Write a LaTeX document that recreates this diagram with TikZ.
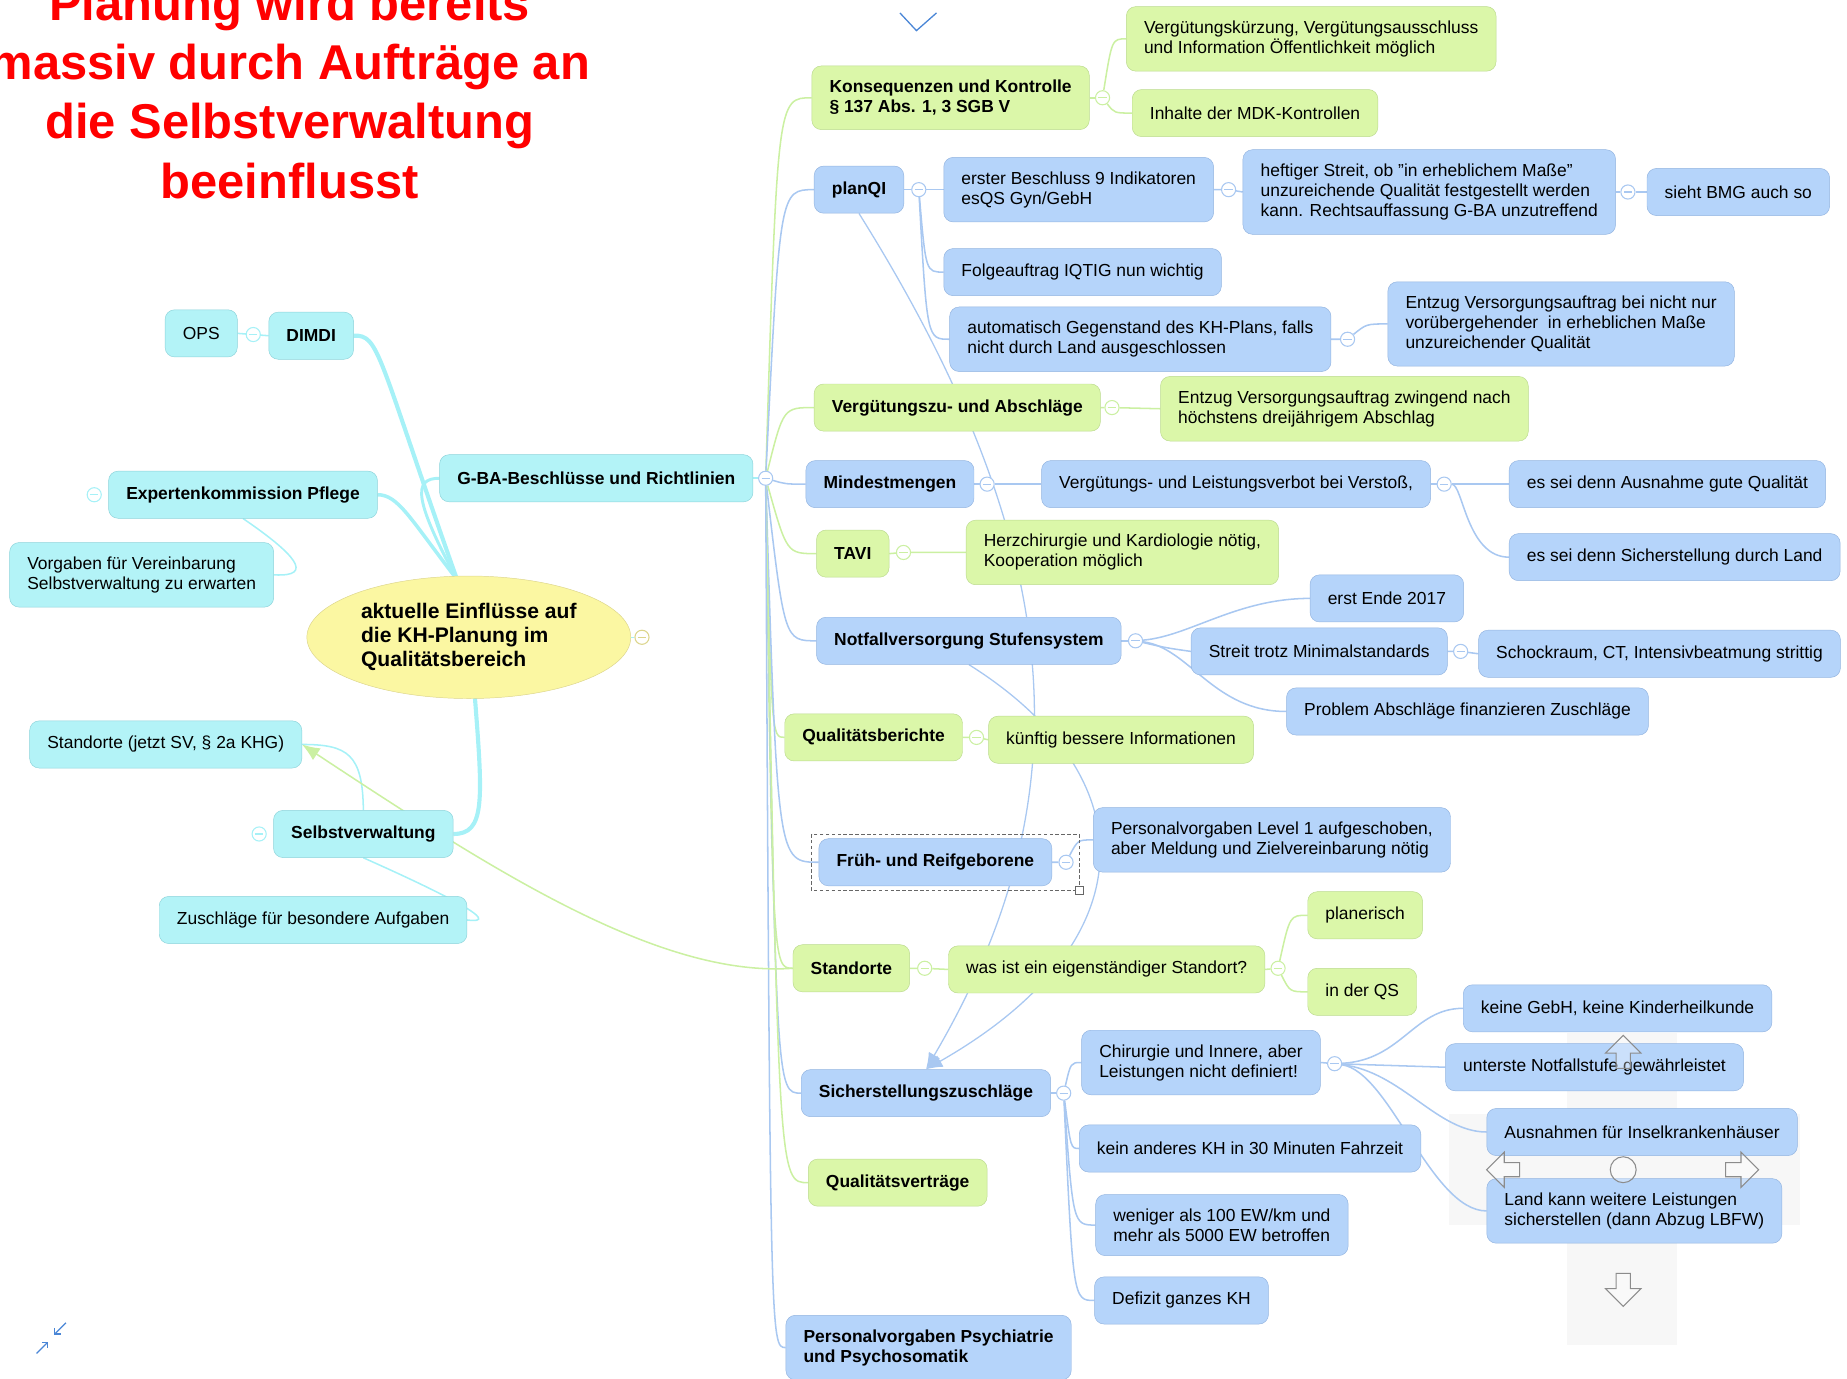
\documentclass[tikz,border=0pt]{standalone}
\usepackage{fontspec}
\setmainfont{Liberation Sans}
\usetikzlibrary{arrows.meta,shapes,positioning,calc,backgrounds}

\definecolor{bluefill}{HTML}{B5D4FA}
\definecolor{bluedraw}{HTML}{93B4E0}
\definecolor{greenfill}{HTML}{DBF7A9}
\definecolor{greendraw}{HTML}{BBDA8E}
\definecolor{cyanfill}{HTML}{B3F3F7}
\definecolor{cyandraw}{HTML}{8DD3DA}
\definecolor{yelfill}{HTML}{FBF7A2}
\definecolor{yeldraw}{HTML}{DCD58C}
\definecolor{bluelink}{HTML}{A9C8F1}
\definecolor{greenlink}{HTML}{CBF0A2}
\definecolor{cyanlink}{HTML}{A6F1F7}
\definecolor{iconblue}{HTML}{4A86D6}

\tikzset{
  boxbase/.style={draw, rounded corners=8pt, inner xsep=15pt, inner ysep=12pt,
    minimum height=40pt, align=left, anchor=west, font=\fontsize{14.8}{17}\selectfont},
  bluebox/.style={boxbase, fill=bluefill, draw=bluedraw},
  greenbox/.style={boxbase, fill=greenfill, draw=greendraw},
  cyanbox/.style={boxbase, fill=cyanfill, draw=cyandraw},
  hdtext/.style={font=\fontsize{14.8}{17}\selectfont\bfseries},
  blueline/.style={draw=bluelink, line width=1.3pt},
  greenline/.style={draw=greenlink, line width=1.3pt},
  cyanline/.style={draw=cyanlink, line width=1.3pt},
  fold/.style={circle, draw=#1, fill=white, line width=0.9pt, inner sep=0pt, minimum size=12pt,
    path picture={\draw[#1, line width=0.9pt] ([xshift=-3.5pt]path picture bounding box.center)
      -- ([xshift=3.5pt]path picture bounding box.center);}},
  padline/.style={draw=black!45, line width=0.9pt, fill=white, fill opacity=0.3}
}

\begin{document}
\begin{tikzpicture}[x=1pt,y=-1pt]
\useasboundingbox (0,0) rectangle (1568,1170);

% Title
\node[text=red, inner sep=0pt, anchor=north, align=center,
  font=\fontsize{41.5}{50.3}\selectfont\bfseries] (title) at (246,-13)
  {Planung wird bereits\\massiv durch Aufträge an\\die Selbstverwaltung\\beeinflusst};

% Root and left side
\node[ellipse, draw=yeldraw, fill=yelfill, minimum width=275pt, minimum height=104pt,
  align=left, font=\fontsize{17.9}{20.5}\selectfont\bfseries] (root) at (398,541)
  {aktuelle Einflüsse auf\\die KH-Planung im\\Qualitätsbereich};
\node[cyanbox,hdtext] (gba) at (373,406) {G-BA-Beschlüsse und Richtlinien};
\node[cyanbox] (ops) at (140,283) {OPS};
\node[cyanbox,hdtext] (dimdi) at (228,285) {DIMDI};
\node[cyanbox,hdtext] (expert) at (92,420) {Expertenkommission Pflege};
\node[cyanbox] (vorg) at (8,488) {Vorgaben für Vereinbarung\\Selbstverwaltung zu erwarten};
\node[cyanbox] (stsv) at (25,632) {Standorte (jetzt SV, § 2a KHG)};
\node[cyanbox,hdtext] (selbst) at (232,708) {Selbstverwaltung};
\node[cyanbox] (zuschl) at (135,781) {Zuschläge für besondere Aufgaben};

% Right side
\node[greenbox,hdtext] (kons) at (689,83) {Konsequenzen und Kontrolle\\§ 137 Abs. 1, 3 SGB V};
\node[greenbox] (kuerz) at (956,33) {Vergütungskürzung, Vergütungsausschluss\\und Information Öffentlichkeit möglich};
\node[greenbox] (mdk) at (961,96) {Inhalte der MDK-Kontrollen};
\node[bluebox,hdtext] (planqi) at (691,161) {planQI};
\node[bluebox] (erster) at (801,161) {erster Beschluss 9 Indikatoren\\esQS Gyn/GebH};
\node[bluebox] (streit) at (1055,163) {heftiger Streit, ob "in erheblichem Maße"\\unzureichende Qualität festgestellt werden\\kann. Rechtsauffassung G-BA unzutreffend};
\node[bluebox] (bmg) at (1398,163) {sieht BMG auch so};
\node[bluebox] (iqtig) at (801,231) {Folgeauftrag IQTIG nun wichtig};
\node[bluebox] (autom) at (806,288) {automatisch Gegenstand des KH-Plans, falls\\nicht durch Land ausgeschlossen};
\node[bluebox] (entzug) at (1178,275) {Entzug Versorgungsauftrag bei nicht nur\\vorübergehender\ \ in erheblichen Maße\\unzureichender Qualität};
\node[greenbox,hdtext] (vza) at (691,346) {Vergütungszu- und Abschläge};
\node[greenbox] (zwing) at (985,347) {Entzug Versorgungsauftrag zwingend nach\\höchstens dreijährigem Abschlag};
\node[bluebox,hdtext] (mm) at (684,411) {Mindestmengen};
\node[bluebox] (verbot) at (884,411) {Vergütungs- und Leistungsverbot bei Verstoß,};
\node[bluebox] (ausn) at (1281,411) {es sei denn Ausnahme gute Qualität};
\node[bluebox] (sich) at (1281,473) {es sei denn Sicherstellung durch Land};
\node[greenbox,hdtext] (tavi) at (693,470) {TAVI};
\node[greenbox] (herz) at (820,469) {Herzchirurgie und Kardiologie nötig,\\Kooperation möglich};
\node[bluebox,hdtext] (notf) at (693,544) {Notfallversorgung Stufensystem};
\node[bluebox] (ende) at (1112,508) {erst Ende 2017};
\node[bluebox] (minst) at (1011,553) {Streit trotz Minimalstandards};
\node[bluebox] (schock) at (1255,555) {Schockraum, CT, Intensivbeatmung strittig};
\node[bluebox] (probl) at (1092,604) {Problem Abschläge finanzieren Zuschläge};
\node[greenbox,hdtext] (qb) at (666,626) {Qualitätsberichte};
\node[greenbox] (kuenftig) at (839,628) {künftig bessere Informationen};
\node[bluebox,hdtext] (frueh) at (695,732) {Früh- und Reifgeborene};
\node[bluebox] (level) at (928,713) {Personalvorgaben Level 1 aufgeschoben,\\aber Meldung und Zielvereinbarung nötig};
\node[greenbox,hdtext] (stao) at (673,822) {Standorte};
\node[greenbox] (eigen) at (805,823) {was ist ein eigenständiger Standort?};
\node[greenbox] (plan) at (1110,777) {planerisch};
\node[greenbox] (inqs) at (1110,842) {in der QS};
\node[bluebox,hdtext] (sz) at (680,928) {Sicherstellungszuschläge};
\node[bluebox] (chir) at (918,902) {Chirurgie und Innere, aber\\Leistungen nicht definiert!};
\node[bluebox] (gebh) at (1242,856) {keine GebH, keine Kinderheilkunde};
\node[bluebox] (unterst) at (1227,906) {unterste Notfallstufe gewährleistet};
\node[bluebox] (insel) at (1262,961) {Ausnahmen für Inselkrankenhäuser};
\node[bluebox] (land) at (1262,1028) {Land kann weitere Leistungen\\sicherstellen (dann Abzug LBFW)};
\node[bluebox] (km30) at (916,975) {kein anderes KH in 30 Minuten Fahrzeit};
\node[bluebox] (ew) at (930,1040) {weniger als 100 EW/km und\\mehr als 5000 EW betroffen};
\node[bluebox] (defizit) at (929,1104) {Defizit ganzes KH};
\node[greenbox,hdtext] (qv) at (686,1004) {Qualitätsverträge};
\node[bluebox,hdtext] (psych) at (667,1144) {Personalvorgaben Psychiatrie\\und Psychosomatik};

% selection frame
\draw[densely dashed, black!60] (689,708) rectangle (916,756);
\draw[black!60, fill=white] (913,752) rectangle (920,759);

% Fold markers
\foreach \nm/\px/\py/\cl in {hub/650/406/bluelink, froot/545/541/yeldraw, fdimdi/215/284/cyanlink,
  fexpert/80/420/cyanlink, fselbst/220/708/cyanlink, fkons/936/83/greenlink, fplan/780/161/bluelink,
  ferster/1043/161/bluelink, fstreit/1382/163/bluelink, fautom/1144/288/bluelink,
  fvza/944/346/greenlink, fmm/838/411/bluelink, fverbot/1226/411/bluelink, ftavi/767/469/greenlink,
  fnotf/964/544/bluelink, fminst/1240/553/bluelink, fqb/829/626/greenlink, ffrueh/905/732/bluelink,
  fstao/785/822/greenlink, feigen/1085/822/greenlink, fsz/903/928/bluelink, fchir/1133/903/bluelink}
  \node[fold=\cl] (\nm) at (\px,\py) {};

% Connectors
\begin{scope}[on background layer]
% control pad backdrop
\fill[black!3] (1330,877) rectangle (1424,1142);
\fill[black!3] (1230,946) rectangle (1528,1040);

% root branches
\coordinate (rtop) at (388,492);
\coordinate (rbot) at (403,590);
\draw[cyanline, line width=3.5pt] (dimdi.east) .. controls (322,284) and (320,300) .. (rtop);
\draw[cyanline, line width=3pt] (expert.east) .. controls (338,420) and (348,440) .. (rtop);
\draw[cyanline, line width=2.5pt] (gba.west) .. controls (350,406) and (352,425) .. (rtop);
\draw[cyanline, line width=3.5pt] (rbot) .. controls (410,680) and (412,708) .. (selbst.east);
\draw[cyanline] (ops.east) -- (dimdi.west);
\draw[cyanline] (expert.south) .. controls (250,470) and (268,490) .. (vorg.east);
\draw[cyanline] (selbst.north) .. controls (308,640) and (295,632) .. (stsv.east);
\draw[cyanline] (selbst.south) .. controls (380,760) and (428,785) .. (zuschl.east);
\draw[cyanline] (root.east) -- (froot);

% trunk from G-BA
\draw[cyanline] (gba.east) -- (hub);
\draw[greenline] (hub) .. controls (660,83) .. (kons.west);
\draw[blueline] (hub) .. controls (662,161) .. (planqi.west);
\draw[greenline] (hub) .. controls (665,346) .. (vza.west);
\draw[blueline] (hub) .. controls (667,411) .. (mm.west);
\draw[greenline] (hub) .. controls (668,470) .. (tavi.west);
\draw[blueline] (hub) .. controls (666,544) .. (notf.west);
\draw[greenline] (hub) .. controls (655,626) .. (qb.west);
\draw[blueline] (hub) .. controls (660,732) .. (frueh.west);
\draw[greenline] (hub) .. controls (656,822) .. (stao.west);
\draw[blueline] (hub) .. controls (659,928) .. (sz.west);
\draw[greenline] (hub) .. controls (661,1004) .. (qv.west);
\draw[blueline] (hub) .. controls (654,1144) .. (psych.west);

% sub branches
\draw[greenline] (kons.east) -- (fkons);
\draw[greenline] (fkons) .. controls (944,33) .. (kuerz.west);
\draw[greenline] (fkons) .. controls (946,96) .. (mdk.west);
\draw[blueline] (planqi.east) -- (fplan) -- (erster.west);
\draw[blueline] (fplan) .. controls (786,231) .. (iqtig.west);
\draw[blueline] (fplan) .. controls (787,288) .. (autom.west);
\draw[blueline] (erster.east) -- (ferster) -- (streit.west);
\draw[blueline] (streit.east) -- (fstreit) -- (bmg.west);
\draw[blueline] (autom.east) -- (fautom) .. controls (1160,275) .. (entzug.west);
\draw[greenline] (vza.east) -- (fvza) -- (zwing.west);
\draw[blueline] (mm.east) -- (fmm) -- (verbot.west);
\draw[blueline] (verbot.east) -- (fverbot) -- (ausn.west);
\draw[blueline] (fverbot) .. controls (1242,411) and (1245,473) .. (sich.west);
\draw[greenline] (tavi.east) -- (ftavi) -- (herz.west);
\draw[blueline] (notf.east) -- (fnotf);
\draw[blueline] (fnotf) .. controls (1010,540) and (1050,508) .. (ende.west);
\draw[blueline] (fnotf) .. controls (990,550) .. (minst.west);
\draw[blueline] (fnotf) .. controls (1010,550) and (1030,604) .. (probl.west);
\draw[blueline] (minst.east) -- (fminst) -- (schock.west);
\draw[greenline] (qb.east) -- (fqb) -- (kuenftig.west);
\draw[blueline] (frueh.east) -- (ffrueh) .. controls (915,713) .. (level.west);
\draw[greenline] (stao.east) -- (fstao) -- (eigen.west);
\draw[greenline] (eigen.east) -- (feigen);
\draw[greenline] (feigen) .. controls (1095,777) .. (plan.west);
\draw[greenline] (feigen) .. controls (1095,842) .. (inqs.west);
\draw[blueline] (sz.east) -- (fsz);
\draw[blueline] (fsz) .. controls (909,902) .. (chir.west);
\draw[blueline] (fsz) .. controls (909,975) .. (km30.west);
\draw[blueline] (fsz) .. controls (911,1040) .. (ew.west);
\draw[blueline] (fsz) .. controls (911,1104) .. (defizit.west);
\draw[blueline] (chir.east) -- (fchir);
\draw[blueline] (fchir) .. controls (1190,900) and (1200,856) .. (gebh.west);
\draw[blueline] (fchir) -- (unterst.west);
\draw[blueline] (fchir) .. controls (1190,910) and (1220,961) .. (insel.west);
\draw[blueline] (fchir) .. controls (1180,910) and (1215,1028) .. (land.west);

% cross links
\draw[blueline, line width=1.1pt, -{Latex[length=14pt,width=11pt]}]
  (planqi.south) .. controls (910,470) and (920,680) .. (sz.north);
\draw[blueline, line width=1.1pt, -{Latex[length=14pt,width=11pt]}]
  (notf.south) .. controls (975,660) and (975,800) .. (sz.north);
\draw[greenline, -{Latex[length=15pt,width=12pt]}]
  (stao.west) .. controls (560,830) and (420,740) .. (stsv.east);
\end{scope}

% Control pad
\draw[padline] (1378,993) circle (11);
\foreach \ang/\dx/\dy in {0/0/-100, 90/-102/0, -90/101/0, 180/0/102} {
  \begin{scope}[shift={(1378+\dx,993+\dy)}, rotate=\ang]
    \draw[padline] (0,-14) -- (15,1) -- (6,1) -- (6,14) -- (-6,14) -- (-6,1) -- (-15,1) -- cycle;
  \end{scope}
}

% Icons
\draw[iconblue, line width=1.1pt] (764,11) -- (778,26) -- (795,11);
\draw[iconblue, line width=1.1pt, -{Straight Barb[angle=90:5pt]}] (31,1149) -- (41,1139);
\draw[iconblue, line width=1.1pt, -{Straight Barb[angle=90:5pt]}] (56,1123) -- (46,1133);
\end{tikzpicture}
\end{document}
